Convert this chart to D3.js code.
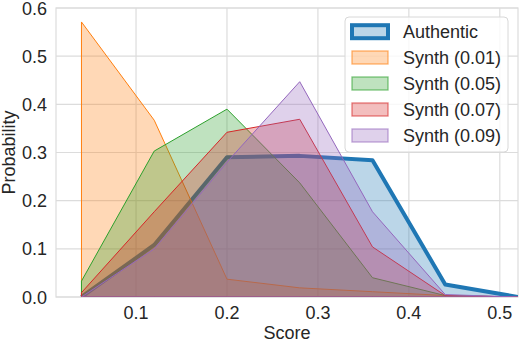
<!DOCTYPE html>
<html><head><meta charset="utf-8">
<script src="https://cdn.jsdelivr.net/npm/d3@7"></script>
<style>
html,body{margin:0;padding:0;background:#fff;}
svg text{font-family:"Liberation Sans",Arial,sans-serif;fill:#262626;}
</style></head>
<body><svg id="c" width="520" height="342"></svg>
<script>
const scores = [0.04, 0.12, 0.20, 0.28, 0.36, 0.44, 0.52];
const authentic = [0.0, 0.108, 0.290, 0.293, 0.284, 0.026, 0.0];
const synth001 = [0.571, 0.367, 0.037, 0.019, 0.011, 0.003, 0.0];
const synth005 = [0.033, 0.303, 0.390, 0.237, 0.040, 0.003, 0.0];
const synth007 = [0.009, 0.177, 0.342, 0.369, 0.104, 0.003, 0.0];
const synth009 = [0.0, 0.100, 0.280, 0.447, 0.177, 0.005, 0.0];
const seriesNames = ["Authentic", "Synth (0.01)", "Synth (0.05)", "Synth (0.07)", "Synth (0.09)"];
const seriesColors = ["#1f77b4", "#ff7f0e", "#2ca02c", "#d62728", "#9467bd"];
const xTicks = [0.1, 0.2, 0.3, 0.4, 0.5];
const yTicks = [0.0, 0.1, 0.2, 0.3, 0.4, 0.5, 0.6];

const seriesVals = [authentic, synth001, synth005, synth007, synth009];

const svg = d3.select("#c");
const L = 56, R = 518, T = 8, B = 297;
const x = d3.scaleLinear().domain([0.012, 0.52]).range([L, R]);
const y = d3.scaleLinear().domain([0, 0.6]).range([B, T]);
const grid = "#dcdcdc";

// grid
const g = svg.append("g");
g.selectAll("line.h").data(yTicks).join("line")
  .attr("x1", L).attr("x2", R).attr("y1", d => y(d)).attr("y2", d => y(d))
  .attr("stroke", grid).attr("stroke-width", 1.2);
g.selectAll("line.v").data(xTicks).join("line")
  .attr("y1", T).attr("y2", B).attr("x1", d => x(d)).attr("x2", d => x(d))
  .attr("stroke", grid).attr("stroke-width", 1.2);
svg.append("rect").attr("x", L).attr("y", T).attr("width", R - L).attr("height", B - T)
  .attr("fill", "none").attr("stroke", grid).attr("stroke-width", 1.2);

svg.append("clipPath").attr("id", "clip").append("rect")
  .attr("x", L).attr("y", T).attr("width", R - L).attr("height", B - T);
const plot = svg.append("g").attr("clip-path", "url(#clip)");

const area = d3.area().x((d, i) => x(scores[i])).y0(y(0)).y1(d => y(d));
const line = d3.line().x((d, i) => x(scores[i])).y(d => y(d));

seriesVals.forEach((vals, k) => {
  const c = seriesColors[k];
  if (k === 0) {
    plot.append("path").attr("d", area(vals)).attr("fill", c).attr("fill-opacity", 0.3);
    plot.append("path").attr("d", line(vals)).attr("fill", "none").attr("stroke", c)
      .attr("stroke-width", 4).attr("stroke-linejoin", "round");
  } else {
    plot.append("path").attr("d", area(vals) ).attr("fill", c).attr("fill-opacity", 0.3)
      .attr("stroke", c).attr("stroke-width", 1);
  }
});

// axes tick labels
svg.append("g").selectAll("text").data(yTicks).join("text")
  .attr("x", 47).attr("y", d => y(d) + 6.5).attr("text-anchor", "end")
  .attr("font-size", 18).text(d => d.toFixed(1));
svg.append("g").selectAll("text").data(xTicks).join("text")
  .attr("x", d => x(d)).attr("y", 319).attr("text-anchor", "middle")
  .attr("font-size", 18).text(d => d.toFixed(1));
svg.append("text").attr("x", (L + R) / 2).attr("y", 338.5).attr("text-anchor", "middle")
  .attr("font-size", 18).text("Score");
svg.append("text").attr("transform", `translate(15,${(T + B) / 2}) rotate(-90)`)
  .attr("text-anchor", "middle").attr("font-size", 18).text("Probability");

// legend
const lg = svg.append("g");
lg.append("rect").attr("x", 345).attr("y", 17).attr("width", 163).attr("height", 135)
  .attr("rx", 4).attr("fill", "#fff").attr("fill-opacity", 0.8)
  .attr("stroke", "#d8d8d8").attr("stroke-width", 1);
const rowY = [31.7, 57.5, 83.5, 109.5, 135.5];
seriesNames.forEach((name, k) => {
  const c = seriesColors[k];
  const cy = rowY[k];
  lg.append("rect").attr("x", 352).attr("y", cy - 6.5).attr("width", 36).attr("height", 13)
    .attr("fill", c).attr("fill-opacity", 0.3)
    .attr("stroke", c).attr("stroke-opacity", k === 0 ? 1 : 0.6)
    .attr("stroke-width", k === 0 ? 4 : 1.3);
  lg.append("text").attr("x", 403).attr("y", cy + 6.5).attr("font-size", 18).text(name);
});
</script></body></html>
